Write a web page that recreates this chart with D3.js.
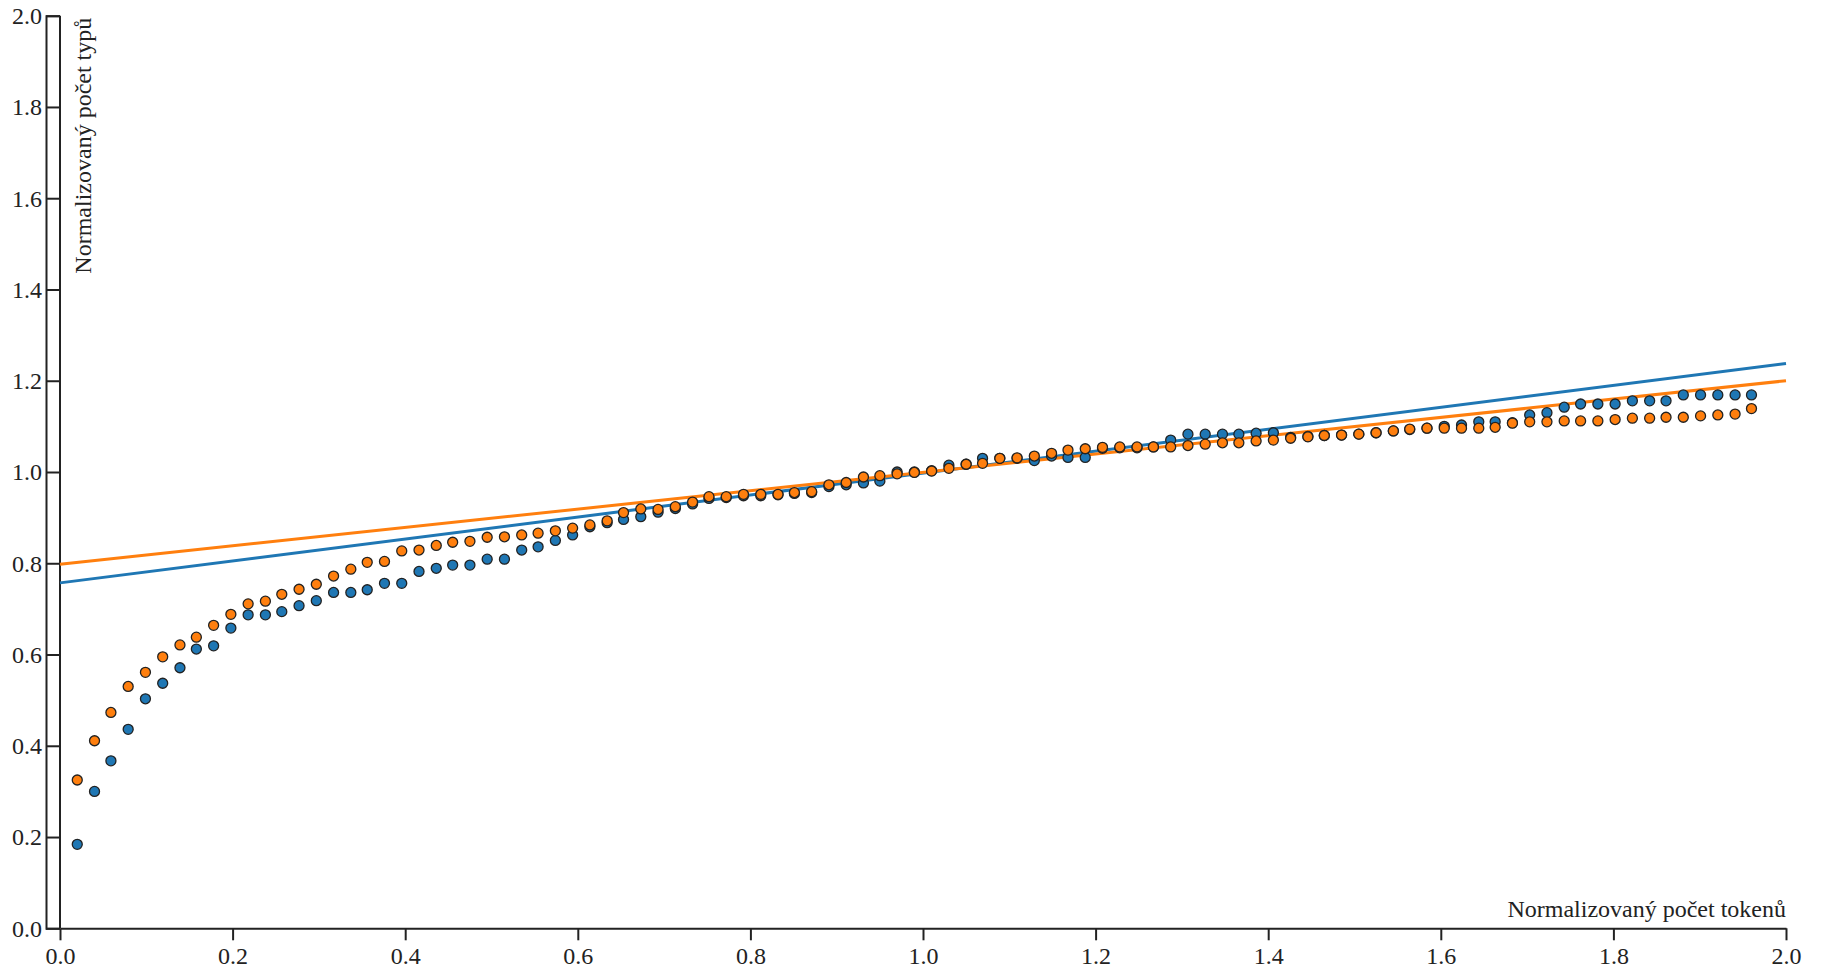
<!DOCTYPE html>
<html>
<head>
<meta charset="utf-8">
<script src="https://cdn.jsdelivr.net/npm/d3@7"></script>
<style>
  body { margin: 0; background: #fff; }
  svg { display: block; font-family: "Liberation Serif", "Times New Roman", serif; }
  .axis path, .axis line, .frame-line { stroke: #222; stroke-width: 2; fill: none; }
  .axis text { fill: #222; }
  .axis-label { font-size: 24px; fill: #222; }
  .dot { stroke: #222; stroke-width: 1.3; }
  .fit { stroke-width: 3; fill: none; }
</style>
</head>
<body>
<div id="chart"></div>
<script>
// Data
const xTicks = [0.0, 0.2, 0.4, 0.6, 0.8, 1.0, 1.2, 1.4, 1.6, 1.8, 2.0];
const yTicks = [0.0, 0.2, 0.4, 0.6, 0.8, 1.0, 1.2, 1.4, 1.6, 1.8, 2.0];

// normalizovaný počet tokenů (k / 50.5, k = 1..99)
const tokens = [
  0.020, 0.040, 0.059, 0.079, 0.099, 0.119, 0.139, 0.158, 0.178, 0.198,
  0.218, 0.238, 0.257, 0.277, 0.297, 0.317, 0.337, 0.356, 0.376, 0.396,
  0.416, 0.436, 0.455, 0.475, 0.495, 0.515, 0.535, 0.554, 0.574, 0.594,
  0.614, 0.634, 0.653, 0.673, 0.693, 0.713, 0.733, 0.752, 0.772, 0.792,
  0.812, 0.832, 0.851, 0.871, 0.891, 0.911, 0.931, 0.950, 0.970, 0.990,
  1.010, 1.030, 1.050, 1.069, 1.089, 1.109, 1.129, 1.149, 1.168, 1.188,
  1.208, 1.228, 1.248, 1.267, 1.287, 1.307, 1.327, 1.347, 1.366, 1.386,
  1.406, 1.426, 1.446, 1.465, 1.485, 1.505, 1.525, 1.545, 1.564, 1.584,
  1.604, 1.624, 1.644, 1.663, 1.683, 1.703, 1.723, 1.743, 1.762, 1.782,
  1.802, 1.822, 1.842, 1.861, 1.881, 1.901, 1.921, 1.941, 1.960
];

const typesBlue = [
  0.184, 0.300, 0.367, 0.436, 0.503, 0.537, 0.571, 0.612, 0.619, 0.658,
  0.687, 0.687, 0.694, 0.707, 0.718, 0.736, 0.736, 0.742, 0.756, 0.756,
  0.782, 0.789, 0.796, 0.796, 0.809, 0.809, 0.829, 0.836, 0.850, 0.862,
  0.880, 0.889, 0.896, 0.902, 0.912, 0.920, 0.930, 0.942, 0.944, 0.948,
  0.948, 0.950, 0.953, 0.955, 0.968, 0.972, 0.976, 0.980, 1.000, 1.000,
  1.003, 1.015, 1.017, 1.030, 1.030, 1.030, 1.025, 1.035, 1.032, 1.032,
  1.052, 1.053, 1.053, 1.055, 1.070, 1.083, 1.083, 1.083, 1.083, 1.085,
  1.086, 1.076, 1.078, 1.080, 1.081, 1.083, 1.086, 1.090, 1.093, 1.096,
  1.100, 1.103, 1.110, 1.110, 1.108, 1.125, 1.130, 1.142, 1.149, 1.149,
  1.149, 1.156, 1.156, 1.156, 1.169, 1.169, 1.169, 1.169, 1.169
];

const typesOrange = [
  0.325, 0.411, 0.473, 0.530, 0.561, 0.595, 0.621, 0.638, 0.664, 0.688,
  0.711, 0.717, 0.732, 0.743, 0.754, 0.772, 0.787, 0.802, 0.804, 0.827,
  0.829, 0.839, 0.846, 0.848, 0.857, 0.858, 0.862, 0.866, 0.871, 0.877,
  0.884, 0.893, 0.911, 0.919, 0.918, 0.924, 0.934, 0.946, 0.946, 0.951,
  0.951, 0.951, 0.955, 0.957, 0.972, 0.977, 0.989, 0.992, 0.996, 0.999,
  1.002, 1.008, 1.017, 1.019, 1.030, 1.031, 1.035, 1.041, 1.048, 1.051,
  1.054, 1.055, 1.055, 1.055, 1.055, 1.058, 1.061, 1.064, 1.064, 1.068,
  1.070, 1.074, 1.077, 1.080, 1.081, 1.083, 1.086, 1.090, 1.094, 1.096,
  1.096, 1.096, 1.096, 1.098, 1.107, 1.110, 1.110, 1.112, 1.112, 1.112,
  1.115, 1.118, 1.118, 1.120, 1.120, 1.123, 1.125, 1.127, 1.139
];

// regression lines: [x, y] at both ends
const fitBlue = [[0, 0.757], [2, 1.238]];
const fitOrange = [[0, 0.798], [2, 1.200]];

const seriesColors = { blue: "#1f77b4", orange: "#ff7f0e" };

const width = 1825;
const height = 972;
const fontFamily = "'Liberation Serif', 'Times New Roman', serif";

const xScale = d3.scaleLinear().domain([0, 2]).range([60, 1786]);
const yScale = d3.scaleLinear().domain([0, 2]).range([928.3, 15.7]);

const svg = d3.select("#chart")
  .append("svg")
    .attr("width", width)
    .attr("height", height);

// Y axis (ticks point inwards, labels on the left)
const yAxis = svg.append("g")
  .attr("class", "axis")
  .attr("transform", "translate(46,0)")
  .call(d3.axisRight(yScale)
    .tickValues(yTicks)
    .tickFormat(d3.format(".1f"))
    .tickSize(xScale(0) - 46)
    .tickSizeOuter(xScale(0) - 46))
  .attr("font-family", fontFamily)
  .attr("font-size", 24);

yAxis.selectAll("text")
  .attr("x", -4)
  .attr("dy", "0.33em")
  .style("text-anchor", "end");

// X axis
const xAxis = svg.append("g")
  .attr("class", "axis")
  .attr("transform", `translate(0,${yScale(0)})`)
  .call(d3.axisBottom(xScale)
    .tickValues(xTicks)
    .tickFormat(d3.format(".1f"))
    .tickSize(12)
    .tickSizeOuter(0))
  .attr("font-family", fontFamily)
  .attr("font-size", 24);

xAxis.selectAll("text")
  .attr("y", 36)
  .attr("dy", 0);

// inner vertical line along x = 0
svg.append("line")
  .attr("class", "frame-line")
  .attr("x1", xScale(0))
  .attr("x2", xScale(0))
  .attr("y1", yScale(2))
  .attr("y2", yScale(0));

// Regression lines
const line = d3.line()
  .x(d => xScale(d[0]))
  .y(d => yScale(d[1]));

svg.append("path")
  .datum(fitBlue)
  .attr("class", "fit")
  .attr("stroke", seriesColors.blue)
  .attr("d", line);

svg.append("path")
  .datum(fitOrange)
  .attr("class", "fit")
  .attr("stroke", seriesColors.orange)
  .attr("d", line);

// Points
svg.selectAll("circle.blue")
  .data(tokens)
  .enter()
  .append("circle")
    .attr("class", "dot blue")
    .attr("cx", d => xScale(d))
    .attr("cy", (d, i) => yScale(typesBlue[i]))
    .attr("r", 5)
    .attr("fill", seriesColors.blue);

svg.selectAll("circle.orange")
  .data(tokens)
  .enter()
  .append("circle")
    .attr("class", "dot orange")
    .attr("cx", d => xScale(d))
    .attr("cy", (d, i) => yScale(typesOrange[i]))
    .attr("r", 5)
    .attr("fill", seriesColors.orange);

// Axis labels
svg.append("text")
  .attr("class", "axis-label")
  .attr("x", xScale(2))
  .attr("y", yScale(0) - 11)
  .attr("text-anchor", "end")
  .text("Normalizovaný počet tokenů");

svg.append("text")
  .attr("class", "axis-label")
  .attr("transform", `translate(${xScale(0) + 31},${yScale(2) + 2}) rotate(-90)`)
  .attr("text-anchor", "end")
  .text("Normalizovaný počet typů");
</script>
</body>
</html>
